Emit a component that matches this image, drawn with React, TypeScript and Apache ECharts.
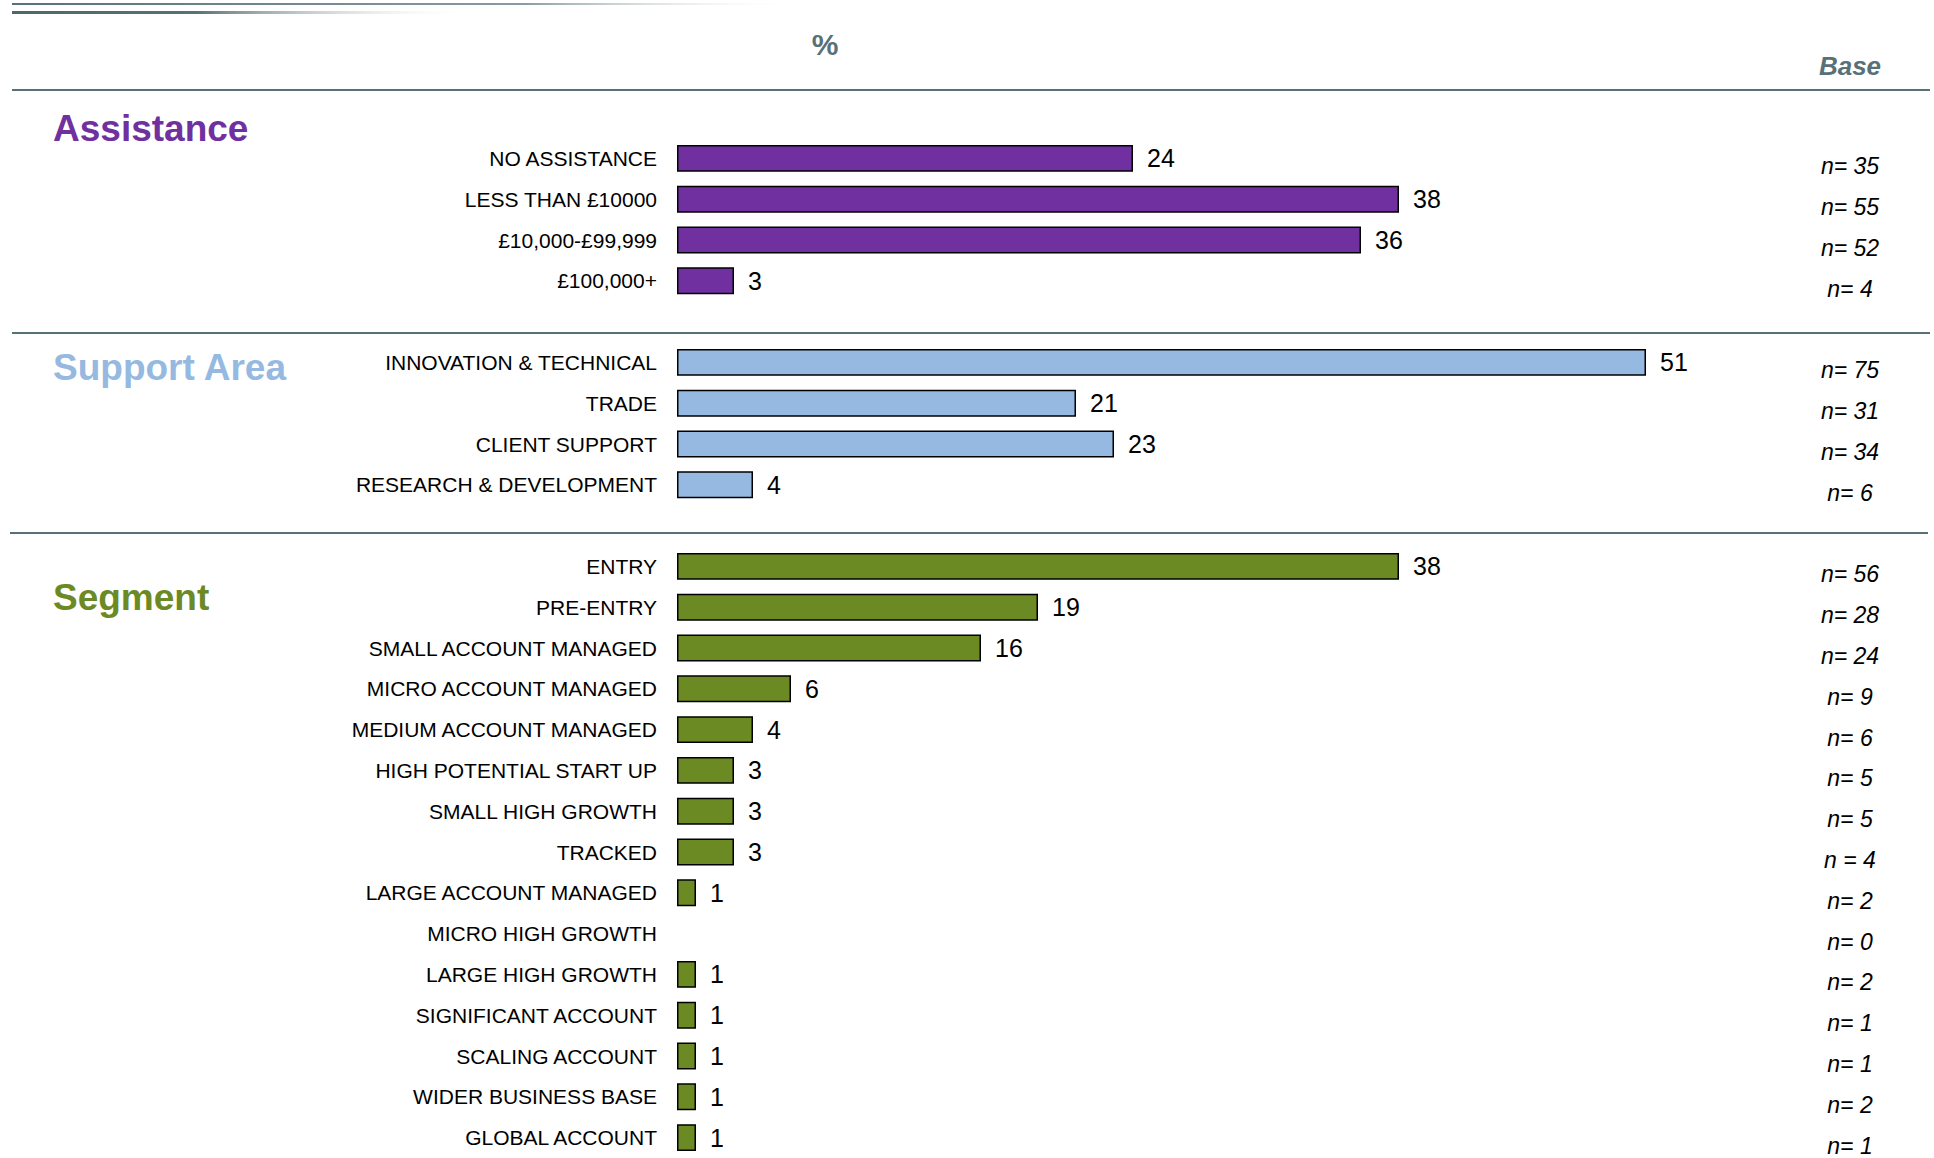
import React, { useEffect, useRef } from "react";
import * as echarts from "echarts";

// ---- data ----
const assistanceCats = ["NO ASSISTANCE", "LESS THAN £10000", "£10,000-£99,999", "£100,000+"];
const assistanceVals = [24, 38, 36, 3];
const assistanceBase = ["n= 35", "n= 55", "n= 52", "n= 4"];

const supportCats = ["INNOVATION & TECHNICAL", "TRADE", "CLIENT SUPPORT", "RESEARCH & DEVELOPMENT"];
const supportVals = [51, 21, 23, 4];
const supportBase = ["n= 75", "n= 31", "n= 34", "n= 6"];

const segmentCats = [
  "ENTRY",
  "PRE-ENTRY",
  "SMALL ACCOUNT MANAGED",
  "MICRO ACCOUNT MANAGED",
  "MEDIUM ACCOUNT MANAGED",
  "HIGH POTENTIAL START UP",
  "SMALL HIGH GROWTH",
  "TRACKED",
  "LARGE ACCOUNT MANAGED",
  "MICRO HIGH GROWTH",
  "LARGE HIGH GROWTH",
  "SIGNIFICANT ACCOUNT",
  "SCALING ACCOUNT",
  "WIDER BUSINESS BASE",
  "GLOBAL ACCOUNT",
];
const segmentVals: (number | null)[] = [38, 19, 16, 6, 4, 3, 3, 3, 1, null, 1, 1, 1, 1, 1];
const segmentBase = [
  "n= 56", "n= 28", "n= 24", "n= 9", "n= 6", "n= 5", "n= 5", "n = 4",
  "n= 2", "n= 0", "n= 2", "n= 1", "n= 1", "n= 2", "n= 1",
];

const groupTitles = ["Assistance", "Support Area", "Segment"];
const groupColors = ["#7030a0", "#95b9e0", "#6b8a24"];

// ---- build axis data (with a blank spacer row between groups) ----
const categories = [...assistanceCats, "", ...supportCats, " ", ...segmentCats];
const baseLabels = [...assistanceBase, "", ...supportBase, " ", ...segmentBase];
const total = categories.length;

function pad(vals: (number | null)[], start: number) {
  const arr: any[] = new Array(total).fill("-");
  vals.forEach((v, i) => {
    arr[start + i] = v === null ? "-" : v;
  });
  return arr;
}

const seriesData = [
  pad(assistanceVals, 0),
  pad(supportVals, assistanceCats.length + 1),
  pad(segmentVals, assistanceCats.length + supportCats.length + 2),
];

const FONT = "'Liberation Sans', Arial, sans-serif";

export default function App() {
  const ref = useRef<HTMLDivElement>(null);

  useEffect(() => {
    if (!ref.current) return;
    const chart = echarts.init(ref.current, undefined, { renderer: "svg" });
    const slate = "#587078";
    const titleFont = "bold 37px 'Liberation Sans', Arial, sans-serif";

    const option: any = {
      animation: false,
      backgroundColor: "#ffffff",
      grid: { left: 677, top: 138, width: 1140, height: 1020, containLabel: false },
      xAxis: {
        type: "value",
        min: 0,
        max: 60,
        show: false,
      },
      yAxis: [
        {
          type: "category",
          data: categories,
          inverse: true,
          axisLine: { show: false },
          axisTick: { show: false },
          splitLine: { show: false },
          axisLabel: {
            color: "#000",
            fontSize: 21,
            fontFamily: FONT,
            margin: 20,
          },
        },
        {
          type: "category",
          data: baseLabels,
          inverse: true,
          position: "right",
          axisLine: { show: false },
          axisTick: { show: false },
          splitLine: { show: false },
          axisLabel: {
            color: "#000",
            fontSize: 23,
            fontStyle: "italic",
            fontFamily: FONT,
            align: "center",
            verticalAlign: "top",
            lineHeight: 16,
            margin: 33,
          },
        },
      ],
      series: seriesData.map((d, i) => ({
        type: "bar",
        name: groupTitles[i],
        stack: "all",
        data: d,
        barCategoryGap: "34%",
        itemStyle: { color: groupColors[i], borderColor: "#000", borderWidth: 1.5 },
        label: {
          show: true,
          position: "right",
          distance: 14,
          color: "#000",
          fontSize: 25,
          fontFamily: FONT,
        },
      })),
      graphic: [
        {
          type: "rect",
          shape: { x: 12, y: 3, width: 790, height: 2 },
          style: {
            fill: new echarts.graphic.LinearGradient(0, 0, 1, 0, [
              { offset: 0, color: "#5a7078" },
              { offset: 0.65, color: "#8a9ca2" },
              { offset: 1, color: "rgba(255,255,255,0)" },
            ]),
          },
        },
        {
          type: "rect",
          shape: { x: 12, y: 11, width: 460, height: 3 },
          style: {
            fill: new echarts.graphic.LinearGradient(0, 0, 1, 0, [
              { offset: 0, color: "#4f666d" },
              { offset: 0.4, color: "#5a7078" },
              { offset: 1, color: "rgba(255,255,255,0)" },
            ]),
          },
        },
        {
          type: "text",
          x: 825,
          y: 44,
          style: {
            text: "%",
            fill: slate,
            font: "bold 30px 'Liberation Sans', Arial, sans-serif",
            textAlign: "center",
            textVerticalAlign: "middle",
          },
        },
        {
          type: "text",
          x: 1850,
          y: 66,
          style: {
            text: "Base",
            fill: slate,
            font: "italic bold 26px 'Liberation Sans', Arial, sans-serif",
            textAlign: "center",
            textVerticalAlign: "middle",
          },
        },
        { type: "line", shape: { x1: 12, y1: 90, x2: 1930, y2: 90 }, style: { stroke: slate, lineWidth: 2 } },
        { type: "line", shape: { x1: 12, y1: 333, x2: 1930, y2: 333 }, style: { stroke: slate, lineWidth: 2 } },
        { type: "line", shape: { x1: 10, y1: 533, x2: 1928, y2: 533 }, style: { stroke: slate, lineWidth: 2 } },
        {
          type: "text",
          x: 53,
          y: 128,
          style: { text: groupTitles[0], fill: groupColors[0], font: titleFont, textVerticalAlign: "middle" },
        },
        {
          type: "text",
          x: 53,
          y: 367,
          style: { text: groupTitles[1], fill: groupColors[1], font: titleFont, textVerticalAlign: "middle" },
        },
        {
          type: "text",
          x: 53,
          y: 597,
          style: { text: groupTitles[2], fill: groupColors[2], font: titleFont, textVerticalAlign: "middle" },
        },
      ],
    };

    chart.setOption(option);
    return () => chart.dispose();
  }, []);

  return (
    <div
      ref={ref}
      style={{ position: "fixed", left: 0, top: 0, width: 1934, height: 1158, background: "#fff" }}
    />
  );
}
